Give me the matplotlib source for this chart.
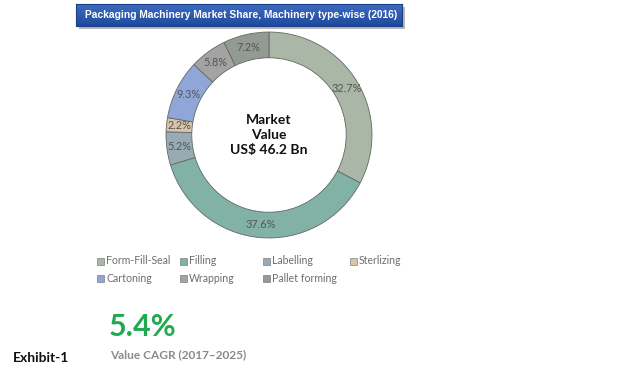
import numpy as np
import matplotlib.pyplot as plt
from matplotlib.patches import Rectangle

plt.rcParams['font.family'] = ['Lato', 'DejaVu Sans']

# datos del gráfico
tipos = ['Form-Fill-Seal', 'Filling', 'Labelling', 'Sterlizing',
         'Cartoning', 'Wrapping', 'Pallet forming']
cuota = [32.7, 37.6, 5.2, 2.2, 9.3, 5.8, 7.2]
colores = ['#aab6a6', '#82b2a6', '#98aab3', '#d8c4a8',
           '#90a6d8', '#a3a3a3', '#939a94']

W, H = 630, 373
fig = plt.figure(figsize=(W / 100, H / 100), dpi=100)


def px(x0, y0, w, h):
    # caja en pixeles (desde arriba) -> coordenadas de figura
    return [x0 / W, 1 - (y0 + h) / H, w / W, h / H]


# banner del título con degradado
sombra = fig.add_axes(px(79, 7, 326, 22))
sombra.set_facecolor('#b8b8b8')
sombra.set_xticks([]); sombra.set_yticks([])
for s in sombra.spines.values():
    s.set_visible(False)
ban = fig.add_axes(px(76, 4, 326, 22))
grad = np.linspace(0, 1, 50).reshape(-1, 1)
ban.imshow(grad, aspect='auto', cmap=plt.matplotlib.colors.LinearSegmentedColormap.from_list(
    'b', ['#3f6cc0', '#1f4a9e']), extent=[0, 1, 0, 1])
ban.set_xticks([]); ban.set_yticks([])
for s in ban.spines.values():
    s.set_color('#1a3f8a')
ban.text(0.028, 0.5, 'Packaging Machinery Market Share, Machinery type-wise (2016)',
         color='white', fontsize=7.4, fontweight='bold', va='center', ha='left',
         family=['Liberation Sans', 'DejaVu Sans'], transform=ban.transAxes)

# dona
ax = fig.add_axes(px(165, 31, 208, 208))
cuñas, _ = ax.pie(cuota, colors=colores, startangle=90, counterclock=False,
                  radius=1, wedgeprops=dict(width=0.25, edgecolor='#5f6a64', linewidth=0.6))
for c, v in zip(cuñas, cuota):
    ang = np.deg2rad((c.theta1 + c.theta2) / 2)
    r = 0.875
    ax.text(r * np.cos(ang), r * np.sin(ang), f'{v:.1f}%', ha='center', va='center',
            fontsize=7.8, color='#555555')
ax.text(0, 0, 'Market\nValue\nUS$ 46.2 Bn', ha='center', va='center',
        fontsize=10, fontweight='bold', color='#111111', linespacing=1.3)
ax.set_xlim(-1.01, 1.01)
ax.set_ylim(-1.01, 1.01)
ax.set_aspect('equal')
ax.axis('off')

# leyenda manual al estilo Excel
cols_x = [97, 180, 263, 350]
for i, (t, col) in enumerate(zip(tipos, colores)):
    fila, k = divmod(i, 4)
    x, y = cols_x[k], 261 + fila * 17
    fig.patches.append(Rectangle((x / W, 1 - (y + 3.5) / H), 7 / W, 7 / H,
                                 transform=fig.transFigure, facecolor=col,
                                 edgecolor='#6a6a6a', linewidth=0.4))
    fig.text((x + 9) / W, 1 - y / H, t, fontsize=7.6, color='#6e6e6e',
             va='center', ha='left')

# CAGR
fig.text(109 / W, 1 - 327 / H, '5.4%', fontsize=22, fontweight='bold',
         color='#1faa50', va='center', ha='left')
fig.text(110 / W, 1 - 355 / H, 'Value CAGR (2017\u20132025)', fontsize=8.6,
         fontweight='bold', color='#8a8a8a', va='center', ha='left')
fig.text(13 / W, 1 - 358 / H, 'Exhibit-1', fontsize=10, fontweight='bold',
         color='#111111', va='center', ha='left')

fig.savefig('out.png', dpi=100)
